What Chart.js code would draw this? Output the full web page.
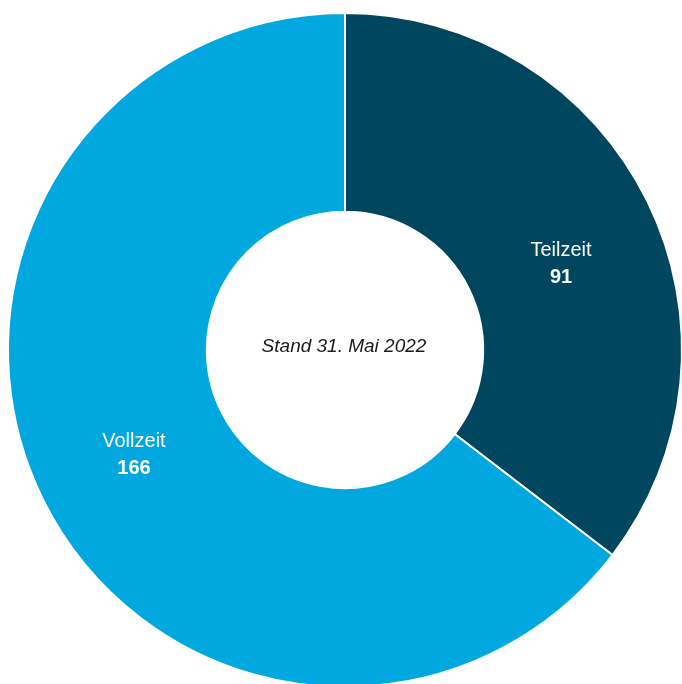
<!DOCTYPE html>
<html>
<head>
<meta charset="utf-8">
<script src="https://cdn.jsdelivr.net/npm/chart.js@4/dist/chart.umd.min.js"></script>
<style>
  html, body { margin: 0; padding: 0; background: #fff; overflow: hidden; }
  #wrap { position: absolute; left: 0; top: 0; width: 690px; height: 700px; }
</style>
</head>
<body>
<div id="wrap"><canvas id="donut" width="690" height="700"></canvas></div>
<script>
// Beschäftigte nach Arbeitszeit
const categories = ["Teilzeit", "Vollzeit"];
const values = [91, 166];
const colors = ["#00465f", "#00a8df"];
const centerText = "Stand 31. Mai 2022";

// kleine Verschiebung der Beschriftung je Segment (px)
const labelShift = [[3, 19], [2, -1]];

// Beschriftung in den Segmenten + Text in der Mitte
const labelPlugin = {
  id: "segLabels",
  afterDatasetsDraw(chart) {
    const ctx = chart.ctx;
    const meta = chart.getDatasetMeta(0);
    ctx.save();
    ctx.textAlign = "center";
    ctx.textBaseline = "middle";
    ctx.fillStyle = "#ffffff";
    meta.data.forEach((arc, i) => {
      const p = arc.tooltipPosition();
      const x = p.x + labelShift[i][0];
      const y = p.y + labelShift[i][1];
      ctx.font = "20px 'Liberation Sans', Arial, sans-serif";
      ctx.fillText(categories[i], x, y - 13);
      ctx.font = "bold 20px 'Liberation Sans', Arial, sans-serif";
      ctx.fillText(String(values[i]), x, y + 14);
    });
    const a = meta.data[0];
    ctx.fillStyle = "#1a1a1a";
    ctx.font = "italic 19px 'Liberation Sans', Arial, sans-serif";
    ctx.fillText(centerText, a.x - 1, a.y - 3);
    ctx.restore();
  }
};

new Chart(document.getElementById("donut"), {
  type: "doughnut",
  data: {
    labels: categories,
    datasets: [{
      data: values,
      backgroundColor: colors,
      borderColor: "#ffffff",
      borderWidth: 2
    }]
  },
  options: {
    responsive: false,
    animation: false,
    cutout: "41%",
    layout: { padding: { left: 7, right: 7, top: 12, bottom: 12 } },
    plugins: {
      legend: { display: false },
      tooltip: { enabled: false }
    }
  },
  plugins: [labelPlugin]
});
</script>
</body>
</html>
